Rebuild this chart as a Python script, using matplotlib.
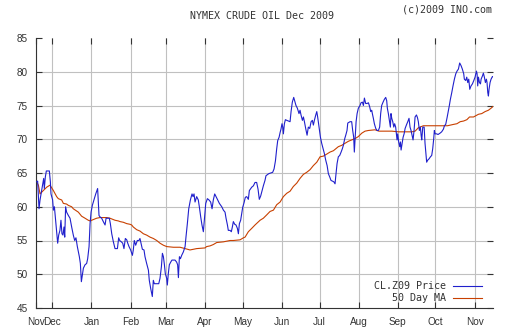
"""
NYMEX crude oil (Dec 2009 contract) daily price with its 50 day moving average.
"""

import pandas as pd
import matplotlib
matplotlib.use("Agg")
import matplotlib.pyplot as plt

# ==========================================
# --- DATA ---
# ==========================================
# x values are days after the first day shown (2008-11-18)
START = pd.Timestamp("2008-11-18")
END = pd.Timestamp("2009-11-15 21:00")

price_days = [
    0.5, 1.3, 2.4, 3.2, 4.0, 5.3, 6.1, 6.6, 7.4, 8.2, 10.6, 11.4, 11.9, 13.2, 13.8,
    14.6, 15.3, 16.4, 17.2, 18.0, 19.0, 19.8, 20.6, 21.4, 22.2, 22.8, 23.5, 24.3,
    25.7, 27.0, 28.3, 29.6, 30.7, 31.7, 32.8, 34.4, 35.2, 36.0, 36.8, 37.6, 38.9,
    40.2, 41.0, 42.1, 42.9, 43.7, 44.7, 46.0, 47.4, 48.9, 50.0, 50.8, 52.1, 53.4,
    54.8, 55.6, 58.2, 59.0, 60.1, 61.4, 62.7, 64.6, 65.6, 66.4, 67.7, 68.8, 69.8,
    70.9, 72.0, 72.8, 73.8, 75.1, 76.5, 77.2, 78.0, 79.1, 80.4, 81.7, 82.5, 83.3,
    84.4, 85.7, 86.5, 87.8, 89.2, 89.9, 91.0, 92.3, 93.1, 93.9, 97.4, 98.4, 99.5,
    100.3, 101.1, 101.9, 102.6, 103.7, 104.2, 105.0, 105.8, 106.9, 107.9, 110.3,
    111.6, 112.4, 113.0, 113.8, 114.6, 115.6, 116.9, 118.3, 119.0, 120.1, 121.2,
    122.5, 123.8, 124.6, 125.4, 126.2, 126.7, 127.5, 128.8, 129.6, 130.7, 131.7,
    132.8, 133.6, 134.7, 136.0, 137.3, 138.6, 139.7, 140.7, 141.8, 142.9, 144.2,
    145.5, 147.4, 148.7, 150.0, 150.8, 151.9, 152.6, 154.0, 155.0, 155.8, 156.6,
    157.7, 158.7, 159.8, 160.6, 161.4, 162.4,
    164.0, 165.1, 166.1, 167.2, 168.5, 169.3, 171.2, 172.5, 173.8, 175.1, 176.2,
    177.2, 178.3, 179.4, 180.4, 181.7, 182.5, 184.7, 186.2, 187.8, 188.9, 190.0,
    191.0, 191.8, 192.9, 193.7, 194.4, 195.2, 195.8, 196.3, 197.1, 197.9, 199.0,
    201.6, 202.4, 203.4, 204.5, 205.6, 206.3, 207.4, 208.7, 209.5, 210.3, 211.4,
    212.2, 213.0, 214.0, 215.1, 216.1, 217.2, 218.3, 219.3, 220.1, 220.9, 222.0,
    222.8, 223.5, 224.6, 225.7, 226.7, 228.1, 228.8, 229.9, 231.0, 232.0, 233.1,
    234.1, 236.3, 237.3, 237.8, 238.9, 239.9, 241.0, 242.1, 243.1, 243.9, 245.0,
    245.8, 246.8, 247.4, 249.2, 250.5, 251.3, 252.1, 252.6, 253.2, 254.0, 254.8,
    255.8, 257.1, 257.9, 259.0, 259.8, 260.6, 261.6, 262.7, 263.8,
    264.8, 265.6, 266.4, 266.9, 267.7, 268.5, 269.6, 270.6, 271.7, 272.7, 273.5,
    274.3, 275.4, 276.4, 277.5, 278.3, 278.8, 279.6, 280.4, 281.2, 281.7, 282.3,
    283.1, 283.9, 284.6, 285.4, 286.5, 287.0, 287.8, 288.6, 289.2, 289.7, 290.5,
    291.3, 292.1, 292.9, 293.9, 295.0, 296.0, 296.8, 297.6, 298.4, 299.2, 300.0,
    300.8, 301.9, 302.7, 303.4, 304.2, 305.0, 305.6, 306.1, 306.9, 308.0, 308.7,
    309.3, 310.0, 310.8, 311.9, 313.0, 314.0, 314.8, 315.6, 316.1, 316.7, 318.0,
    319.0, 320.6, 321.9, 323.3, 324.1, 325.1, 326.2, 327.2, 328.0, 328.8, 329.9,
    330.9, 332.0, 333.1, 334.1, 335.2, 336.2, 337.3, 338.3, 339.4, 339.9, 341.0,
    341.8, 342.6, 343.4, 344.2, 345.2, 346.3, 347.4, 348.4, 349.5, 350.0, 350.5,
    351.1, 351.9, 352.7, 353.2, 354.3, 355.0, 355.8, 356.6, 357.4, 357.9, 358.5,
    359.0, 359.5, 360.3, 361.1, 362.2, 363.0,
]
price = [
    63.7, 63.8, 59.7, 61.0, 61.9, 63.4, 64.2, 62.7, 64.4, 65.3, 65.3, 63.7, 61.9, 61.0, 59.5,
    60.0, 58.5, 56.0, 54.6, 55.8, 56.5, 58.0, 56.0, 55.8, 57.0, 55.5, 60.0, 59.2,
    58.7, 58.3, 57.0, 55.8, 55.0, 55.4, 54.1, 52.6, 51.6, 48.9, 49.9, 50.9, 51.4,
    51.6, 52.3, 54.1, 57.5, 59.2, 60.2, 61.0, 61.9, 62.7, 58.7, 58.5, 58.3, 57.8,
    57.3, 58.3, 58.3, 57.5, 56.0, 54.8, 53.8, 53.8, 55.4, 55.0, 54.8, 54.6, 53.8,
    55.3, 55.1, 54.6, 54.1, 53.6, 52.8, 53.6, 55.0, 54.3, 55.0, 55.0, 55.3, 54.6,
    53.7, 53.6, 52.6, 51.6, 50.6, 49.1, 47.9, 46.7, 49.1, 48.6, 48.6, 49.4, 51.1,
    53.1, 52.6, 51.4, 50.1, 49.4, 48.4, 50.1, 51.4, 51.8, 52.1, 52.1,
    51.8, 51.4, 49.5, 52.6, 52.3, 52.8, 53.3, 54.1, 55.5, 57.5, 59.7,
    61.0, 61.9, 61.5, 61.9, 60.7, 61.0, 61.5, 61.0, 60.0, 58.5, 57.3,
    56.3, 58.0, 60.5, 61.2, 61.0, 60.7, 59.7, 61.0, 61.9, 61.5, 61.0,
    60.5, 60.0, 59.5, 59.2, 58.3, 57.3, 56.5, 56.5, 56.3, 57.0, 57.8,
    57.4, 57.3, 56.8, 56.0, 57.5, 58.0,
    59.9, 60.6, 61.4, 61.5, 61.1, 62.4, 62.9, 63.1, 63.6, 63.6, 62.6,
    61.1, 61.6, 62.4, 63.1, 63.9, 64.6, 64.9, 65.0, 65.1, 65.6, 66.8,
    68.6, 69.8, 70.3, 71.0, 71.5, 72.3, 71.8, 70.8, 72.3, 72.9, 72.8,
    72.6, 74.1, 75.5, 76.2, 75.5, 75.0, 74.6, 73.8, 74.3, 73.6, 72.8,
    73.3, 72.6, 71.6, 70.6, 71.8, 71.6, 72.6, 72.8, 72.1, 72.8, 73.6,
    74.1, 73.3, 71.8, 70.3, 69.4, 68.4, 67.9, 66.9, 66.1, 64.9, 64.4,
    63.9, 63.7, 63.4, 64.4, 66.4, 67.4, 67.6, 68.1, 68.6, 69.1, 70.1,
    70.6, 71.3, 72.4, 72.6, 72.6, 71.3, 70.3, 68.1, 70.1, 72.6, 73.8,
    74.6, 75.0, 75.4, 75.5, 75.0, 76.1, 75.3, 75.3, 75.4,
    74.8, 74.1, 74.3, 73.8, 73.1, 72.3, 71.6, 71.3, 71.3, 71.8, 73.8,
    75.0, 75.5, 75.9, 76.2, 75.7, 74.6, 73.8, 72.8, 71.8, 73.8, 73.1,
    72.6, 71.8, 72.3, 71.8, 69.9, 70.8, 69.6, 68.9, 69.6, 68.4, 69.4,
    70.3, 70.8, 71.6, 72.1, 72.6, 73.1, 71.8, 71.3, 70.6, 69.9, 71.3,
    73.3, 73.6, 73.2, 72.6, 71.3, 71.8, 70.6, 69.9, 71.8, 71.8, 69.4,
    68.1, 66.6, 66.9, 67.1, 67.4, 67.6, 68.6, 70.1, 71.3, 70.8, 70.8,
    70.7, 70.9, 71.1, 71.5, 72.0, 72.2, 73.2, 74.2, 75.0, 75.9, 76.9,
    77.9, 78.9, 79.7, 80.1, 80.4, 81.3, 80.9, 80.4, 79.7, 78.9, 78.7,
    79.2, 78.4, 78.9, 77.4, 77.9, 78.2, 78.7, 79.2, 80.1, 79.7, 77.9,
    79.2, 78.4, 78.2, 78.9, 79.4, 79.8, 79.2, 78.4, 78.9, 78.4, 76.9,
    76.4, 77.4, 78.4, 78.9, 79.3, 79.2,
]

ma_days = [
    0.5, 1.9, 3.2, 5.8, 8.5, 11.1, 13.8, 16.4, 17.7, 20.4, 21.7, 24.3, 25.7, 28.3,
    29.6, 33.6, 36.2, 38.9, 41.5, 42.9, 45.5, 48.1, 50.8, 56.1, 58.7, 62.7, 65.3,
    66.7, 69.3, 72.0, 74.6, 75.9, 77.2, 79.9, 82.5, 85.2, 87.8, 90.5, 93.1, 95.8,
    98.4, 101.1, 103.7, 109.0, 114.3, 118.3, 122.2, 124.9, 127.5, 134.1, 135.4,
    138.1, 140.7, 143.4, 148.7, 154.0, 156.6, 161.9, 164.6, 165.9, 168.5, 171.2,
    173.8, 177.8, 180.4, 183.1, 185.7, 188.4, 191.0, 193.7, 196.3, 199.0, 201.6,
    204.2, 206.9, 209.5, 212.2, 214.8, 217.5, 220.1, 222.8, 225.4, 228.0, 230.7,
    233.3, 236.0, 237.3, 239.9, 242.6, 245.2, 247.9, 250.5, 253.2, 255.8, 258.5,
    261.1, 263.8, 269.0, 272.1, 282.3, 287.6, 298.2, 300.8, 303.4, 307.4, 326.5,
    331.3, 334.0, 336.6, 339.3, 341.9, 344.0, 347.2, 351.1, 353.7, 356.4, 359.0,
    361.1, 362.9,
]
ma50 = [
    63.7, 63.2, 61.9, 62.4, 62.9, 63.2, 62.4, 61.5, 61.2, 61.0, 60.5, 60.4, 60.2, 60.0,
    59.7, 59.2, 58.6, 58.3, 58.0, 57.9, 58.1, 58.3, 58.4, 58.4, 58.3, 58.0, 57.9,
    57.8, 57.7, 57.5, 57.4, 57.3, 57.0, 56.6, 56.4, 56.0, 55.8, 55.5, 55.3, 55.0,
    54.6, 54.3, 54.1, 54.0, 54.0, 53.8, 53.6, 53.7, 53.8, 53.9, 54.1,
    54.2, 54.4, 54.7, 54.8, 55.0, 55.0, 55.1, 55.4, 55.5, 56.3, 56.8,
    57.3, 58.0, 58.3, 58.8, 59.3, 59.5, 60.3, 60.7, 61.5, 62.0, 62.3,
    63.0, 63.5, 64.2, 64.8, 65.1, 65.5, 66.1, 66.6, 67.4, 67.5, 67.8,
    68.1, 68.3, 68.5, 68.9, 69.1, 69.4, 69.7, 69.9, 70.1, 70.4, 70.9,
    71.2, 71.3, 71.4, 71.2, 71.2, 71.1, 71.1, 71.2, 71.7, 72.0, 72.0,
    72.2, 72.3, 72.6, 72.7, 72.9, 73.3, 73.3, 73.7, 73.8, 74.1, 74.3,
    74.6, 74.9,
]

Y_TICKS = [45, 50, 55, 60, 65, 70, 75, 80, 85]
MONTH_LABELS = ["Nov", "Dec", "Jan", "Feb", "Mar", "Apr", "May", "Jun",
                "Jul", "Aug", "Sep", "Oct", "Nov"]

PRICE_COLOR = "#2020cc"
MA_COLOR = "#c84000"
GRID_COLOR = "#c0c0c0"
AXIS_COLOR = "#333333"
TEXT_COLOR = "#333333"

# ==========================================
# --- PLOT ---
# ==========================================
price_dates = START + pd.to_timedelta(price_days, unit="D")
ma_dates = START + pd.to_timedelta(ma_days, unit="D")

fig = plt.figure(figsize=(5.12, 3.35), dpi=100)
ax = fig.add_axes([36 / 512, 27 / 335, 457.3 / 512, 270 / 335])

ax.plot(price_dates, price, color=PRICE_COLOR, lw=0.8, label="CL.Z09 Price", zorder=3)
ax.plot(ma_dates, ma50, color=MA_COLOR, lw=0.8, label="50 Day MA", zorder=2)

ax.set_xlim(START, END)
ax.set_ylim(45, 85)

# x ticks: left edge is labelled "Nov", then the first of each month
month_starts = list(pd.date_range("2008-12-01", "2009-11-01", freq="MS"))
ax.set_xticks([START] + month_starts)
ax.set_xticklabels(MONTH_LABELS)
ax.set_yticks(Y_TICKS)

ax.grid(True, color=GRID_COLOR, lw=0.8, zorder=0)
ax.set_axisbelow(True)
ax.get_ygridlines()[-1].set_visible(False)
ax.get_ygridlines()[0].set_visible(False)

for side in ["top", "right"]:
    ax.spines[side].set_visible(False)
for side in ["left", "bottom"]:
    ax.spines[side].set_color(AXIS_COLOR)
    ax.spines[side].set_linewidth(0.8)

ax.tick_params(direction="in", length=4, width=0.8, color=AXIS_COLOR,
               top=True, right=True, labelsize=7.2, labelcolor=TEXT_COLOR)
ax.tick_params(axis="x", pad=6.5)
ax.tick_params(axis="y", pad=6)
for lbl in ax.get_xticklabels() + ax.get_yticklabels():
    lbl.set_fontfamily("Liberation Sans")

leg = ax.legend(loc="lower right", bbox_to_anchor=(0.99, -0.008), frameon=False,
                markerfirst=False, handlelength=2.9, handletextpad=0.7,
                labelspacing=0.2, borderpad=0.2,
                prop={"family": "DejaVu Sans Mono", "size": 7.2})
for t in leg.get_texts():
    t.set_color(TEXT_COLOR)

fig.text(262.5 / 512, 1 - 16 / 335, "NYMEX CRUDE OIL Dec 2009", ha="center", va="center",
         family="DejaVu Sans Mono", fontsize=7.2, color=TEXT_COLOR)
fig.text(492 / 512, 1 - 10 / 335, "(c)2009 INO.com", ha="right", va="center",
         family="DejaVu Sans Mono", fontsize=7.2, color=TEXT_COLOR)

fig.savefig("out.png", dpi=100, facecolor="white")
plt.close(fig)
